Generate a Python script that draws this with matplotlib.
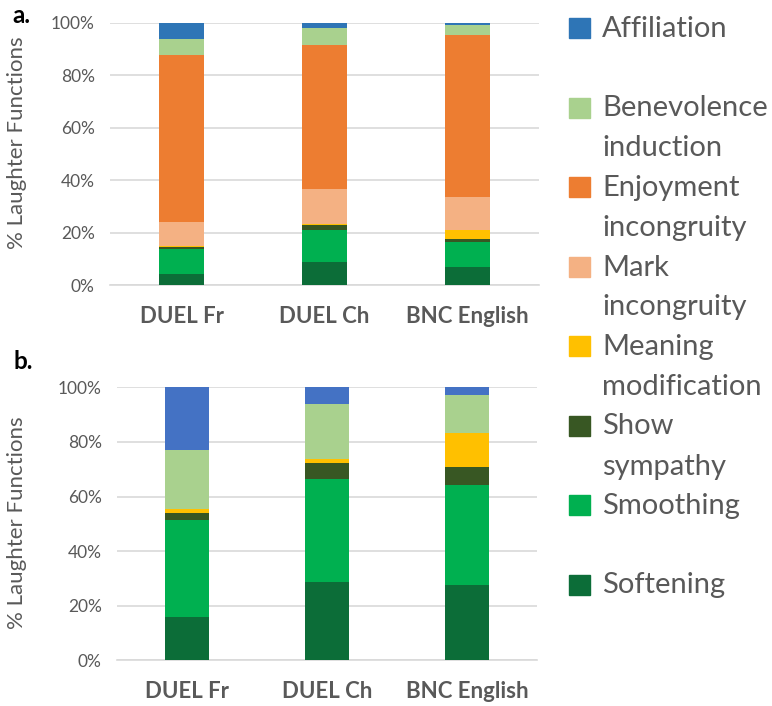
import numpy as np
import matplotlib
matplotlib.use("Agg")
import matplotlib.pyplot as plt
from matplotlib.patches import Rectangle
from matplotlib.ticker import FuncFormatter

plt.rcParams['font.family'] = ['Lato', 'DejaVu Sans']

corpora = ['DUEL Fr', 'DUEL Ch', 'BNC English']

# stacking order, bottom to top
functions = ['Softening', 'Smoothing', 'Show sympathy', 'Meaning modification',
             'Mark incongruity', 'Enjoyment incongruity', 'Benevolence induction',
             'Affiliation']
legend_labels = ['Softening\n', 'Smoothing\n', 'Show\nsympathy', 'Meaning\nmodification',
                 'Mark\nincongruity', 'Enjoyment\nincongruity', 'Benevolence\ninduction',
                 'Affiliation\n']

# panel a (% of laughter functions)
a_softening = [4.3, 9.0, 6.9]
a_smoothing = [9.7, 12.1, 9.5]
a_sympathy = [0.6, 1.9, 1.4]
a_meaning = [0.4, 0.5, 3.4]
a_mark = [9.1, 13.0, 12.4]
a_enjoyment = [63.7, 55.0, 61.8]
a_benevolence = [5.9, 6.6, 3.7]
a_affiliation = [6.3, 1.9, 0.9]

# panel b
b_softening = [16.0, 28.8, 27.4]
b_smoothing = [35.5, 37.6, 36.8]
b_sympathy = [2.6, 5.9, 6.7]
b_meaning = [1.2, 1.3, 12.4]
b_mark = [0, 0, 0]
b_enjoyment = [0, 0, 0]
b_benevolence = [21.6, 20.3, 13.8]
b_affiliation = [23.1, 6.1, 2.9]

colors = ['#0C6D38', '#00B050', '#385723', '#FFC000',
          '#F4B183', '#ED7D31', '#A9D18E', '#2E75B6']
affil_b = '#4472C4'

panel_a = [a_softening, a_smoothing, a_sympathy, a_meaning, a_mark,
           a_enjoyment, a_benevolence, a_affiliation]
panel_b = [b_softening, b_smoothing, b_sympathy, b_meaning, b_mark,
           b_enjoyment, b_benevolence, b_affiliation]

W, H = 772, 706
fig = plt.figure(figsize=(W / 100, H / 100), dpi=100)

def px_box(left, right, top, bottom):
    return [left / W, 1 - bottom / H, (right - left) / W, (bottom - top) / H]

ax_a = fig.add_axes(px_box(110, 539, 22.7, 285.3))
ax_b = fig.add_axes(px_box(117, 537, 387.3, 660.3))

grey = '#595959'
x = np.arange(len(corpora))

def draw_panel(ax, series, affil_color):
    bottom = np.zeros(len(corpora))
    for i, vals in enumerate(series):
        c = colors[i]
        if functions[i] == 'Affiliation':
            c = affil_color
        vals = np.array(vals, dtype=float)
        ax.bar(x, vals, 0.31, bottom=bottom, color=c, zorder=3)
        bottom += vals
    ax.set_xlim(-0.5, 2.5)
    ax.set_ylim(0, 100)
    ax.set_yticks(np.arange(0, 101, 20))
    ax.yaxis.set_major_formatter(FuncFormatter(lambda v, p: '%d%%' % v))
    ax.set_xticks(x)
    ax.set_xticklabels(corpora, fontsize=16, fontweight='bold', color=grey)
    ax.tick_params(axis='y', length=0, pad=11, labelsize=12.5, labelcolor=grey)
    ax.tick_params(axis='x', length=0, pad=15)
    ax.grid(axis='y', color='#D9D9D9', linewidth=1.2, zorder=0)
    for s in ['top', 'right', 'left']:
        ax.spines[s].set_visible(False)
    ax.spines['bottom'].set_color('#D9D9D9')
    ax.spines['bottom'].set_linewidth(1.2)
    ax.set_ylabel('% Laughter Functions', fontsize=16, color=grey)

draw_panel(ax_a, panel_a, colors[-1])
draw_panel(ax_b, panel_b, affil_b)
ax_a.yaxis.set_label_coords(-0.193, 0.542)
ax_b.yaxis.set_label_coords(-0.214, 0.503)

fig.text(12 / W, 1 - 23 / H, 'a.', fontsize=17.5, fontweight='bold', va='baseline')
fig.text(14 / W, 1 - 369 / H, 'b.', fontsize=17.5, fontweight='bold', va='baseline')

# legend, top to bottom
entry_y = 28
for i in range(len(functions) - 1, -1, -1):
    c = colors[i]
    fig.patches.append(Rectangle((569 / W, 1 - (entry_y + 10) / H), 21 / W, 20 / H,
                                 transform=fig.transFigure, color=c, figure=fig))
    for k, line in enumerate(legend_labels[i].split('\n')):
        if line:
            fig.text(602 / W, 1 - (entry_y + 9 + 40 * k) / H, line,
                     fontsize=21, color=grey, va='baseline')
    entry_y += 79.5

fig.savefig('out.png', dpi=100)
